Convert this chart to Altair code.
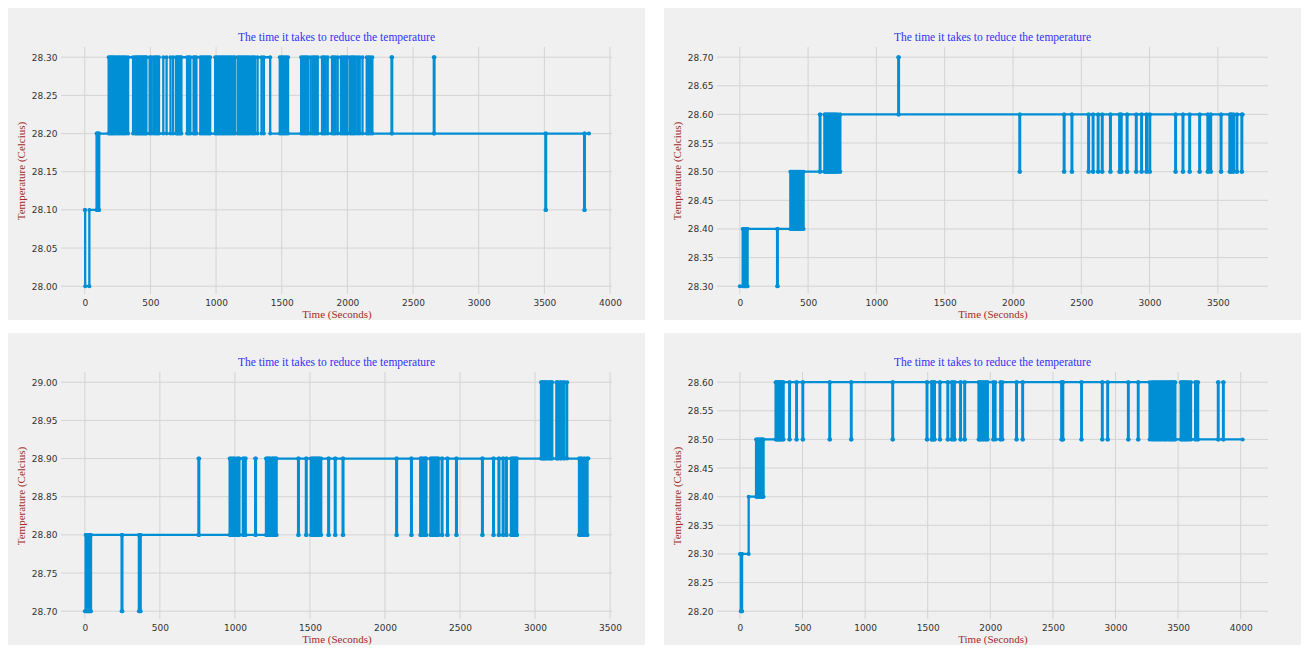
import altair as alt
import pandas as pd

TITLE = "The time it takes to reduce the temperature"
X_TITLE = "Time (Seconds)"
Y_TITLE = "Temperature (Celcius)"

LINE_COLOR = "#008fd5"
BG = "#f0f0f0"
GRID = "#d4d4d4"


def toggle(times, first, second):
    return [(t, first if i % 2 == 0 else second) for i, t in enumerate(times)]


def blips(times, level, back, width=5):
    out = []
    for t in times:
        out += [(t, level), (t + width, back)]
    return out


# ---------------- Panel 1 ----------------
p1_xticks = [0, 500, 1000, 1500, 2000, 2500, 3000, 3500, 4000]
p1_yticks = [28.00, 28.05, 28.10, 28.15, 28.20, 28.25, 28.30]
p1_xdomain = [-181, 4015]
p1_ydomain = [27.9898, 28.3134]
p1_start = [(0, 28.1), (3, 28.0), (35, 28.1), (90, 28.2), (95, 28.1),
            (100, 28.2), (105, 28.1), (110, 28.2)]
p1_toggle_times = [182, 192, 204, 212, 225, 237, 250, 262, 275, 288, 300, 313,
                   330, 368, 383, 393, 404, 414, 424, 434, 444, 454, 464, 469,
                   494, 509, 527, 540, 552, 565, 598, 623, 653, 673,
                   696, 706, 716, 726, 736, 779, 792, 804, 829, 839, 850,
                   880, 892, 905, 918, 930, 943, 955,
                   993, 1006, 1018, 1031, 1044, 1056, 1069, 1081, 1094, 1106,
                   1119, 1132, 1144, 1165, 1177, 1190, 1202, 1215, 1228, 1240,
                   1253, 1270, 1283, 1296, 1316, 1346, 1364, 1412,
                   1485, 1497, 1510, 1522, 1535, 1548,
                   1648, 1661, 1674, 1686, 1699, 1719, 1737, 1749, 1762, 1774,
                   1807, 1820, 1832, 1850, 1883, 1895, 1908, 1926,
                   1951, 1963, 1976, 1989, 2001, 2021, 2034, 2047, 2059, 2077,
                   2094, 2115, 2147, 2160, 2173, 2190]
p1_up_blips = [2336, 2658]
p1_down_blips = [3508, 3803]
p1_end = 3840
p1_steps = (p1_start + toggle(p1_toggle_times, 28.3, 28.2)
            + blips(p1_up_blips, 28.3, 28.2) + blips(p1_down_blips, 28.1, 28.2))

# ---------------- Panel 2 ----------------
p2_xticks = [0, 500, 1000, 1500, 2000, 2500, 3000, 3500]
p2_yticks = [28.30, 28.35, 28.40, 28.45, 28.50, 28.55, 28.60, 28.65, 28.70]
p2_xdomain = [-167, 3867]
p2_ydomain = [28.2864, 28.7178]
p2_block_a = [21, 27, 33, 39, 45, 51, 57]
p2_block_b = [370, 378, 385, 392, 400, 408, 416, 424, 432, 440, 448, 456, 467]
p2_block_c = [619, 625, 631, 637, 643, 649, 655, 661, 667, 673, 679, 685, 691,
              697, 703, 712, 716]
p2_dips = [731, 2047, 2372, 2429, 2551, 2584, 2621, 2651, 2711, 2778, 2790, 2833,
           2900, 2939, 2975, 2999, 3188, 3242, 3291, 3364, 3424, 3445, 3521,
           3585, 3597, 3612, 3637, 3673]
p2_end = 3682
p2_steps = ([(0, 28.3)] + toggle(p2_block_a, 28.4, 28.3) + blips([273], 28.3, 28.4)
            + toggle(p2_block_b, 28.5, 28.4) + blips([585], 28.6, 28.5)
            + toggle(p2_block_c, 28.6, 28.5) + blips([1160], 28.7, 28.6)
            + blips(p2_dips, 28.5, 28.6))

# ---------------- Panel 3 ----------------
p3_xticks = [0, 500, 1000, 1500, 2000, 2500, 3000, 3500]
p3_yticks = [28.70, 28.75, 28.80, 28.85, 28.90, 28.95, 29.00]
p3_xdomain = [-159, 3513]
p3_ydomain = [28.6898, 29.0134]
p3_block_a = [5, 9, 14, 18, 23, 27, 32, 36, 41]
p3_block_b = [360, 364, 368, 372]
p3_block_c = [965, 972, 979, 986, 993, 1000, 1014, 1018, 1025, 1030]
p3_up_spikes = [757, 1053, 1067, 1135]
p3_block_d = [1207, 1212, 1218, 1223, 1229, 1234, 1245, 1250, 1256, 1261, 1268,
              1273, 1278]
p3_block_e = [1506, 1512, 1518, 1524, 1530, 1536, 1542, 1548, 1554, 1560, 1566, 1575]
p3_block_f = [2235, 2241, 2247, 2253, 2262, 2268, 2272, 2276]
p3_block_g = [2303, 2309, 2315, 2321, 2327, 2333, 2339, 2345, 2351, 2358]
p3_block_h = [2840, 2846, 2852, 2858, 2864, 2870, 2876, 2881]
p3_dips = [1421, 1473, 1622, 1666, 1718, 2075, 2174, 2378, 2414, 2474, 2647,
           2721, 2757, 2785, 2807, 3293, 3307, 3326, 3345]
p3_top_a = [3040, 3046, 3052, 3058, 3064, 3070, 3078, 3088, 3095, 3104, 3110, 3115]
p3_top_b = [3142, 3150, 3156, 3170, 3176, 3190, 3197, 3214]
p3_end = 3356
p3_steps = ([(0, 28.7)] + toggle(p3_block_a, 28.8, 28.7) + blips([245], 28.7, 28.8)
            + toggle(p3_block_b, 28.7, 28.8) + blips(p3_up_spikes, 28.9, 28.8)
            + toggle(p3_block_c, 28.9, 28.8) + toggle(p3_block_d, 28.9, 28.8)
            + toggle(p3_block_e, 28.8, 28.9) + toggle(p3_block_f, 28.8, 28.9)
            + toggle(p3_block_g, 28.8, 28.9) + toggle(p3_block_h, 28.8, 28.9)
            + blips(p3_dips, 28.8, 28.9)
            + toggle(p3_top_a, 29.0, 28.9) + toggle(p3_top_b, 29.0, 28.9))

# ---------------- Panel 4 ----------------
p4_xticks = [0, 500, 1000, 1500, 2000, 2500, 3000, 3500, 4000]
p4_yticks = [28.20, 28.25, 28.30, 28.35, 28.40, 28.45, 28.50, 28.55, 28.60]
p4_xdomain = [-183, 4218]
p4_ydomain = [28.1864, 28.6178]
p4_block_a = [7, 10, 14, 17]
p4_block_b = [129, 135, 141, 147, 153, 159, 165, 171, 177, 183, 189]
p4_block_c = [285, 291, 297, 303, 309, 315, 321, 327, 333]
p4_dips = [344, 394, 450, 500, 715, 887, 1218, 1492, 1529, 1540, 1552, 1595,
           1658, 1691, 1711, 1760, 1793, 1906, 1920, 1939, 1959, 1975, 2022,
           2207, 2256, 2567, 2577, 2726, 2892, 2935, 3100, 3179]
p4_block_d = [2041, 2080, 2085, 2098]
p4_block_e = [3272, 3289, 3300, 3312, 3322, 3332, 3345, 3355, 3365, 3377, 3388,
              3397, 3405, 3417, 3428, 3436, 3444, 3452, 3461, 3470, 3478, 3521,
              3529, 3537, 3546, 3554, 3562, 3570, 3580, 3593, 3603]
p4_up_spikes = [3636, 3655, 3818, 3859]
p4_end = 4016
p4_steps = ([(0, 28.3)] + toggle(p4_block_a, 28.2, 28.3) + [(70, 28.4)]
            + toggle(p4_block_b, 28.5, 28.4) + toggle(p4_block_c, 28.6, 28.5)
            + blips(p4_dips, 28.5, 28.6) + toggle(p4_block_d, 28.5, 28.6)
            + toggle(p4_block_e, 28.5, 28.6) + blips(p4_up_spikes, 28.6, 28.5))


def build(steps, end):
    steps = sorted(steps, key=lambda s: s[0])
    rows = []
    prev = None
    for t, v in steps:
        if prev is not None and v != prev:
            rows.append((t, prev))
        rows.append((t, v))
        prev = v
    rows.append((end, prev))
    return pd.DataFrame({"t": [r[0] for r in rows], "v": [r[1] for r in rows],
                         "i": list(range(len(rows)))})


W, H = 551, 247
LEFT, RIGHT, TOP, BOTTOM = 53, 33, 39, 26


def panel(steps, end, xdom, ydom, xticks, yticks):
    df = build(steps, end)
    xs = alt.Scale(domain=xdom, nice=False, zero=False)
    ys = alt.Scale(domain=ydom, nice=False, zero=False)

    xaxis = alt.Axis(values=xticks, format="d", title=X_TITLE, grid=False,
                     domain=False, ticks=False, labelFont="DejaVu Sans",
                     labelFontSize=9, labelColor="#333333", labelPadding=4,
                     labelFlush=False, titleFont="Liberation Serif",
                     titleFontSize=11, titleFontWeight="normal",
                     titleColor="#a52a2a", titlePadding=1, zindex=1)
    yaxis = alt.Axis(values=yticks, format=".2f", title=Y_TITLE, grid=False,
                     domain=False, ticks=False, labelFont="DejaVu Sans",
                     labelFontSize=9, labelColor="#333333", labelPadding=4,
                     titleFont="Liberation Serif", titleFontSize=11,
                     titleFontWeight="normal", titleColor="#a52a2a",
                     titlePadding=5, zindex=1)

    one = pd.DataFrame({"a": [0]})
    bg = alt.Chart(one).mark_rect(color=BG).encode(
        x=alt.value(-LEFT), x2=alt.value(W + RIGHT),
        y=alt.value(-TOP), y2=alt.value(H + BOTTOM))
    title = alt.Chart(one).mark_text(
        font="Liberation Serif", fontSize=11.5, color="#3030ff",
        align="center", baseline="alphabetic").encode(
        x=alt.value(W / 2), y=alt.value(-6), text=alt.value(TITLE))
    xgrid = alt.Chart(pd.DataFrame({"t": xticks})).mark_rule(
        color=GRID, strokeWidth=1).encode(x=alt.X("t:Q", scale=xs, axis=xaxis))
    ygrid = alt.Chart(pd.DataFrame({"v": yticks})).mark_rule(
        color=GRID, strokeWidth=1).encode(y=alt.Y("v:Q", scale=ys, axis=yaxis))

    base = alt.Chart(df).encode(
        x=alt.X("t:Q", scale=xs, axis=xaxis),
        y=alt.Y("v:Q", scale=ys, axis=yaxis),
        order="i:Q")
    line = base.mark_line(color=LINE_COLOR, strokeWidth=2.3, interpolate="linear")
    pts = base.mark_point(color=LINE_COLOR, filled=True, size=16, opacity=1)

    return alt.layer(bg, xgrid, ygrid, line, pts, title).properties(
        width=W, height=H)


c1 = panel(p1_steps, p1_end, p1_xdomain, p1_ydomain, p1_xticks, p1_yticks)
c2 = panel(p2_steps, p2_end, p2_xdomain, p2_ydomain, p2_xticks, p2_yticks)
c3 = panel(p3_steps, p3_end, p3_xdomain, p3_ydomain, p3_xticks, p3_yticks)
c4 = panel(p4_steps, p4_end, p4_xdomain, p4_ydomain, p4_xticks, p4_yticks)

chart = alt.vconcat(
    alt.hconcat(c1, c2, spacing=19),
    alt.hconcat(c3, c4, spacing=19),
    spacing=13,
).properties(padding=0, background="white").configure_view(stroke=None)

chart.save("out.html", embed_options={"renderer": "svg", "actions": False})
